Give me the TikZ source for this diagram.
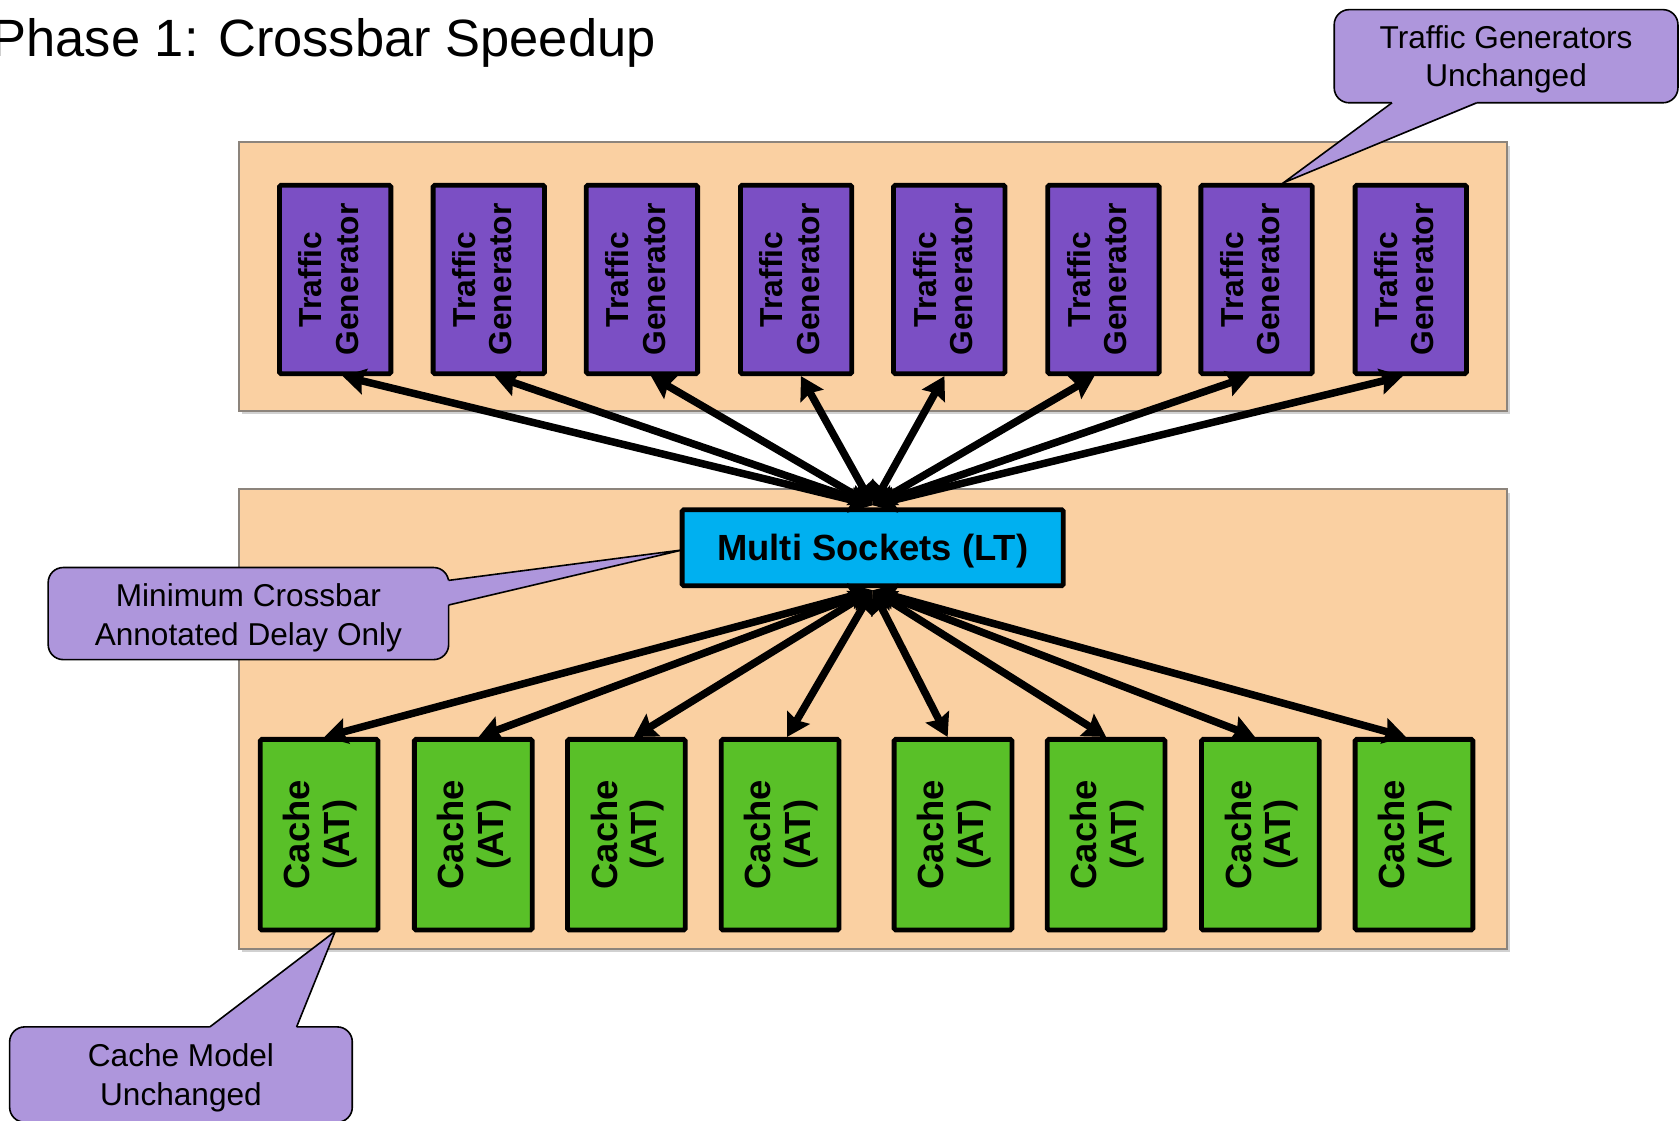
\documentclass[tikz,border=0pt]{standalone}
\usepackage{fontspec}
\setmainfont{Liberation Sans}
\usetikzlibrary{arrows.meta,calc}

\definecolor{panel}{RGB}{250,208,162}
\definecolor{panelline}{RGB}{140,132,124}
\definecolor{tgfill}{RGB}{123,79,196}
\definecolor{cachefill}{RGB}{89,192,40}
\definecolor{msfill}{RGB}{0,176,240}
\definecolor{notefill}{RGB}{174,150,220}

\begin{document}
\begin{tikzpicture}[x=1pt,y=-1pt,
  panelbox/.style={fill=panel, draw=panelline, line width=2pt},
  shadowbox/.style={fill=black!18, draw=none},
  tgbox/.style={draw=black, fill=tgfill, line width=4.5pt, rounded corners=1.5pt,
    minimum width=104pt, minimum height=176pt, inner sep=0pt},
  cachebox/.style={draw=black, fill=cachefill, line width=4.5pt, rounded corners=1.5pt,
    minimum width=110pt, minimum height=178pt, inner sep=0pt},
  msbox/.style={draw=black, fill=msfill, line width=4.5pt, rounded corners=1.5pt,
    minimum width=356pt, minimum height=71pt, inner sep=0pt},
  mstext/.style={inner sep=0pt, font=\bfseries\fontsize{34}{40}\selectfont},
  boxtext/.style={rotate=90, align=center, inner sep=0pt,
    font=\bfseries\fontsize{29.7}{34}\selectfont},
  cachetext/.style={rotate=90, align=center, inner sep=0pt,
    font=\bfseries\fontsize{34}{37}\selectfont},
  note/.style={draw=black, fill=notefill, line width=1.5pt, rounded corners=14pt,
    inner sep=0pt},
  notetext/.style={align=center, inner sep=0pt, font=\fontsize{29.5}{36}\selectfont},
  notetip/.style={fill=notefill, draw=none},
  noteedge/.style={draw=black, line width=1.5pt, line join=miter},
  conn/.style={line width=7pt,
    {Stealth[length=21pt,width=24pt,inset=3pt]}-{Stealth[length=21pt,width=24pt,inset=3pt]}},
]
\clip (0,0) rectangle (1568,1046);

% title
\node[anchor=base west, inner sep=0pt, font=\fontsize{49}{58}\selectfont]
  (title) at (-8,53) {Phase 1: Crossbar Speedup};

% background panels with a light drop shadow
\fill[shadowbox] (226,136) rectangle (1410,387);
\draw[panelbox] (223,133) rectangle (1407,384);
\fill[shadowbox] (226,460) rectangle (1410,889);
\draw[panelbox] (223,457) rectangle (1407,886);

% traffic generators
\foreach \i/\x in {1/313,2/456.5,3/599.5,4/743.5,5/886.5,6/1030.5,7/1173.5,8/1317.5}{
  \node[tgbox] (tg\i) at (\x,261) {};
  \node[boxtext] (tg\i-t) at ($(tg\i)+(-6,0)$) {Traffic\\Generator};
}

% caches
\foreach \i/\x in {1/298,2/442,3/585,4/728.5,5/890,6/1033,7/1177,8/1320.5}{
  \node[cachebox] (c\i) at (\x,779.5) {};
  \node[cachetext] (c\i-t) at ($(c\i)+(1,0)$) {Cache\\(AT)};
}

% crossbar
\node[msbox] (ms) at (815,511.5) {};
\node[mstext] (ms-t) at ($(ms)+(0,3)$) {Multi Sockets (LT)};

% links to the traffic generators
\foreach \i/\o in {1/7,2/5.5,3/8.5,4/4.5,5/-4.5,6/-8.5,7/-6.5,8/-7.5}{
  \draw[conn] ($(ms.north)+(0,-2)$) -- ($(tg\i.south)+(\o,0)$);
}
% links to the caches
\foreach \i/\o in {1/5,2/5,3/7,4/6.5,5/-5,6/0,7/-5,8/-7.5}{
  \draw[conn] ($(ms.south)+(0,2)$) -- ($(c\i.north)+(\o,0)$);
}

% callout: traffic generators
\node[note, minimum width=321pt, minimum height=87pt] (n1) at (1406.5,52.5) {};
\node[notetext] (n1-t) at ($(n1)+(0,3)$) {Traffic Generators\\Unchanged};
\coordinate (n1tip) at ($(tg7.north)+(25,0)$);
\fill[notetip] (1300,94) -- (1300,97) -- (n1tip) -- (1379,97) -- (1379,94) -- cycle;
\draw[noteedge] (1300,96) -- (n1tip) -- (1379,96);

% callout: crossbar
\node[note, minimum width=374pt, minimum height=86pt] (n2) at (232,573) {};
\node[notetext] (n2-t) at ($(n2)+(0,4)$) {Minimum Crossbar\\Annotated Delay Only};
\coordinate (n2tip) at ($(ms.west)+(3,2)$);
\fill[notetip] (416,542) -- (419,542) -- (n2tip) -- (419,565) -- (416,565) -- cycle;
\draw[noteedge] (419,542) -- (n2tip) -- (419,565);

% callout: cache
\node[note, minimum width=320pt, minimum height=89pt] (n3) at (169,1003.5) {};
\node[notetext] (n3-t) at ($(n3)+(0,3)$) {Cache Model\\Unchanged};
\coordinate (n3tip) at ($(c1.south)+(15,-1)$);
\fill[notetip] (196,962) -- (196,959) -- (n3tip) -- (277,959) -- (277,962) -- cycle;
\draw[noteedge] (196,959) -- (n3tip) -- (277,959);
\end{tikzpicture}
\end{document}
